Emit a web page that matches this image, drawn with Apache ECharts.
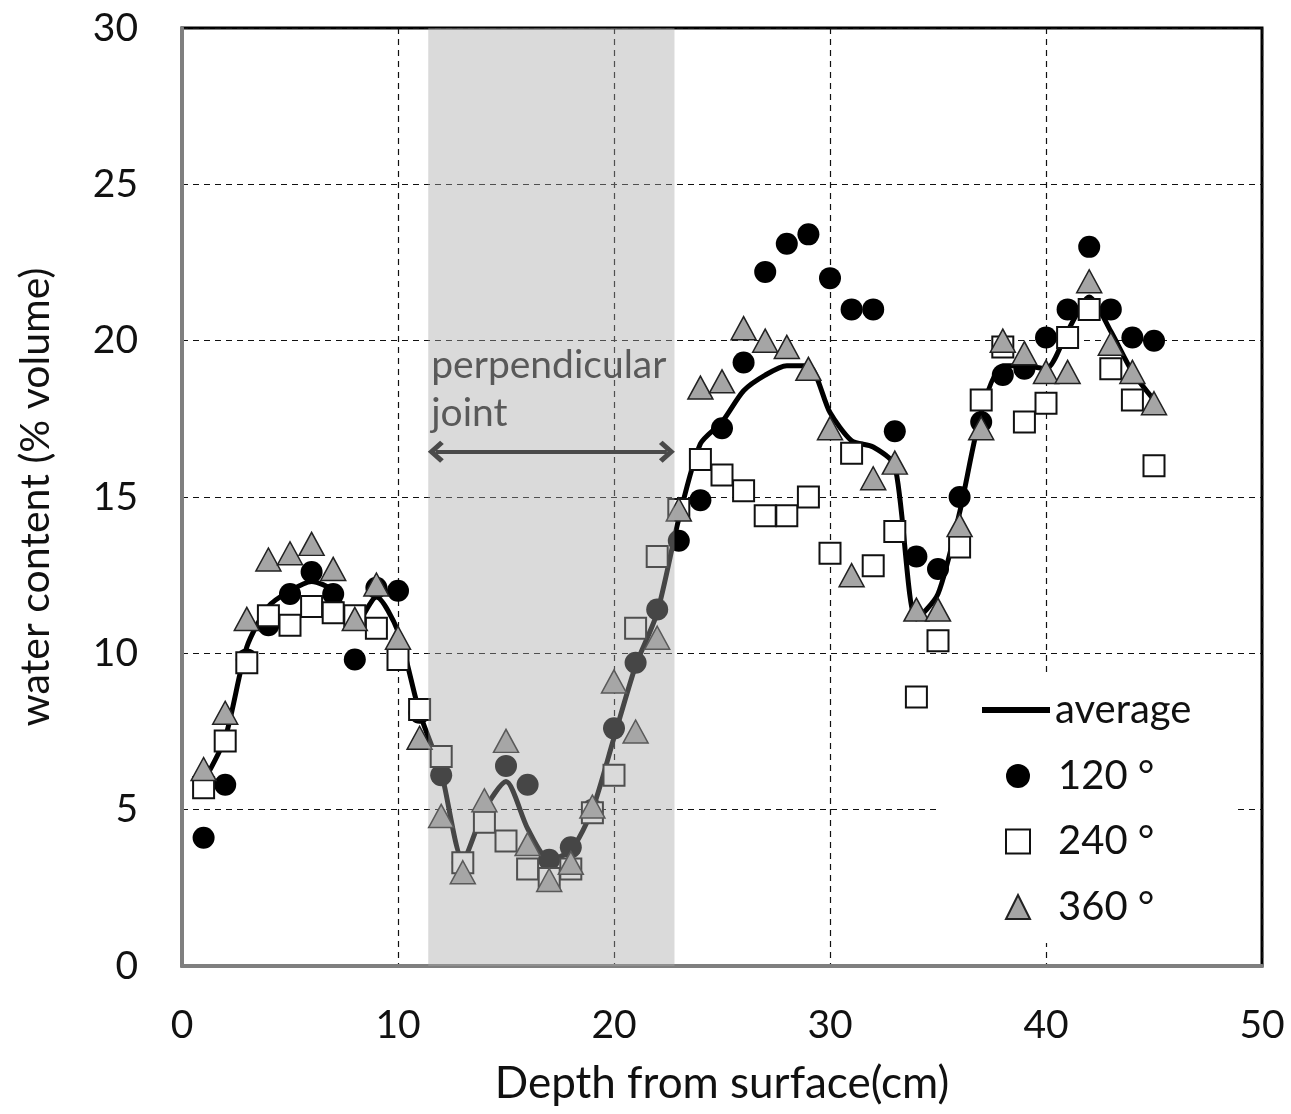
<!DOCTYPE html>
<html>
<head>
<meta charset="utf-8">
<script src="https://cdn.jsdelivr.net/npm/echarts@6/dist/echarts.min.js"></script>
<style>html,body{margin:0;padding:0;background:#fff}#chart{width:1291px;height:1114px}</style>
</head>
<body>
<div id="chart"></div>
<script>
const depth = [1,2,3,4,5,6,7,8,9,10,11,12,13,14,15,16,17,18,19,20,21,22,23,24,25,26,27,28,29,30,31,32,33,34,35,36,37,38,39,40,41,42,43,44,45];
const deg120 = [4.1,5.8,9.8,10.9,11.9,12.6,11.9,9.8,12.1,12.0,8.1,6.1,3.3,4.8,6.4,5.8,3.4,3.8,5.0,7.6,9.7,11.4,13.6,14.9,17.2,19.3,22.2,23.1,23.4,22.0,21.0,21.0,17.1,13.1,12.7,15.0,17.4,18.9,19.1,20.1,21.0,23.0,21.0,20.1,20.0];
const deg240 = [5.7,7.2,9.7,11.2,10.9,11.5,11.3,11.2,10.8,9.8,8.2,6.7,3.3,4.6,4.0,3.1,2.8,3.1,4.9,6.1,10.8,13.1,14.6,16.2,15.7,15.2,14.4,14.4,15.0,13.2,16.4,12.8,13.9,8.6,10.4,13.4,18.1,19.8,17.4,18.0,20.1,21.0,19.1,18.1,16.0];
const deg360 = [6.3,8.1,11.1,13.0,13.2,13.5,12.7,11.1,12.2,10.5,7.3,4.8,3.0,5.3,7.2,3.9,2.75,3.3,5.1,9.1,7.5,10.5,14.6,18.5,18.7,20.4,20.0,19.8,19.1,17.2,12.5,15.6,16.1,11.4,11.4,14.1,17.2,20.0,19.6,19.0,19.0,21.9,19.9,19.0,18.0];
const average = [5.9,7.3,10.2,11.5,12.0,12.3,12.0,10.9,11.8,10.7,8.1,6.2,3.4,5.0,5.9,4.4,3.4,3.7,5.0,7.3,9.6,11.3,14.3,16.7,17.4,18.4,18.9,19.2,19.2,17.7,16.8,16.6,16.0,11.1,11.9,14.5,17.7,19.2,19.2,19.1,20.3,21.4,20.3,19.0,18.1];
const jointRange = [11.4, 22.8];
const arrowEnds = [11.75, 22.45];
const arrowY = 16.45;
const labelPoint = [11.4, 18.45];
const xTicks = {min: 0, max: 50, interval: 10};
const yTicks = {min: 0, max: 30, interval: 5};
const seriesNames = ['average', '120 °', '240 °', '360 °'];

const pair = (ys) => depth.map((x, i) => [x, ys[i]]);
const FONT = 'Lato';
const chevron = 'path://M0,10 L10,0 L20,10 L17,13 L10,6 L3,13 Z';

const chart = echarts.init(document.getElementById('chart'), null, {renderer: 'canvas'});
chart.setOption({
  animation: false,
  backgroundColor: '#fff',
  textStyle: {fontFamily: FONT},
  grid: {left: 182, right: 29, top: 28, bottom: 148, show: true, borderColor: '#000', borderWidth: 3, backgroundColor: 'transparent'},
  xAxis: {
    type: 'value', min: xTicks.min, max: xTicks.max, interval: xTicks.interval,
    name: 'Depth from surface(cm)', nameLocation: 'middle', nameGap: 96,
    nameTextStyle: {fontSize: 44, color: '#111', fontFamily: FONT},
    axisLine: {show: true, onZero: false, lineStyle: {color: '#7f7f7f', width: 4}},
    axisTick: {show: false},
    axisLabel: {fontSize: 39, color: '#111', margin: 40, fontFamily: FONT},
    splitLine: {show: true, lineStyle: {color: '#111', type: [6, 5], width: 1.2}}
  },
  yAxis: {
    type: 'value', min: yTicks.min, max: yTicks.max, interval: yTicks.interval,
    name: 'water content (% volume)', nameLocation: 'middle', nameGap: 126,
    nameTextStyle: {fontSize: 41, color: '#111', fontFamily: FONT},
    axisLine: {show: true, onZero: false, lineStyle: {color: '#7f7f7f', width: 4}},
    axisTick: {show: false},
    axisLabel: {fontSize: 39, color: '#111', margin: 44, fontFamily: FONT},
    splitLine: {show: true, lineStyle: {color: '#111', type: [6, 5], width: 1.2}}
  },
  legend: [
    {
      orient: 'vertical', left: 940, top: 677,
      backgroundColor: '#fff',
      padding: [13, 45, 213, 42],
      itemWidth: 68, itemHeight: 6,
      textStyle: {fontSize: 40, color: '#111', fontFamily: FONT},
      data: [{name: seriesNames[0], icon: 'rect', itemStyle: {color: '#000'}}]
    },
    {
      orient: 'vertical', left: 1005, top: 756, z: 5,
      padding: 0,
      itemWidth: 24, itemHeight: 24, itemGap: 25.5,
      textStyle: {fontSize: 40, color: '#111', fontFamily: FONT, padding: [0, 0, 0, 23]},
      data: seriesNames.slice(1)
    }
  ],
  series: [
    {
      name: seriesNames[0], type: 'line', data: pair(average),
      symbol: 'none', smooth: 0.25, z: 3,
      lineStyle: {color: '#000', width: 5},
      itemStyle: {color: '#000'},
      markArea: {
        silent: true, z: 4,
        itemStyle: {color: 'rgba(166,166,166,0.42)'},
        data: [[{xAxis: jointRange[0]}, {xAxis: jointRange[1]}]]
      },
      markLine: {
        silent: true, z: 6,
        symbol: [chevron, chevron],
        symbolSize: [22, 16],
        lineStyle: {color: '#4a4a4a', width: 4, type: 'solid'},
        label: {show: false},
        data: [[{coord: [arrowEnds[0], arrowY]}, {coord: [arrowEnds[1], arrowY]}]]
      },
      markPoint: {
        silent: true, z: 6,
        symbol: 'circle', symbolSize: 0,
        label: {
          show: true, position: 'right', distance: 3,
          formatter: 'perpendicular\njoint',
          fontSize: 39, lineHeight: 48, color: '#595959', fontFamily: FONT, align: 'left'
        },
        data: [{coord: labelPoint}]
      }
    },
    {
      name: seriesNames[1], type: 'scatter', data: pair(deg120), z: 3,
      symbol: 'circle', symbolSize: 22,
      itemStyle: {color: '#000', borderWidth: 0, opacity: 1}
    },
    {
      name: seriesNames[2], type: 'scatter', data: pair(deg240), z: 3,
      symbol: 'rect', symbolSize: 21,
      itemStyle: {color: '#fff', borderColor: '#111', borderWidth: 2, opacity: 1}
    },
    {
      name: seriesNames[3], type: 'scatter', data: pair(deg360), z: 3,
      symbol: 'triangle', symbolSize: [25, 23],
      itemStyle: {color: '#a5a5a5', borderColor: '#222', borderWidth: 1.5, opacity: 1}
    }
  ]
});
</script>
</body>
</html>
